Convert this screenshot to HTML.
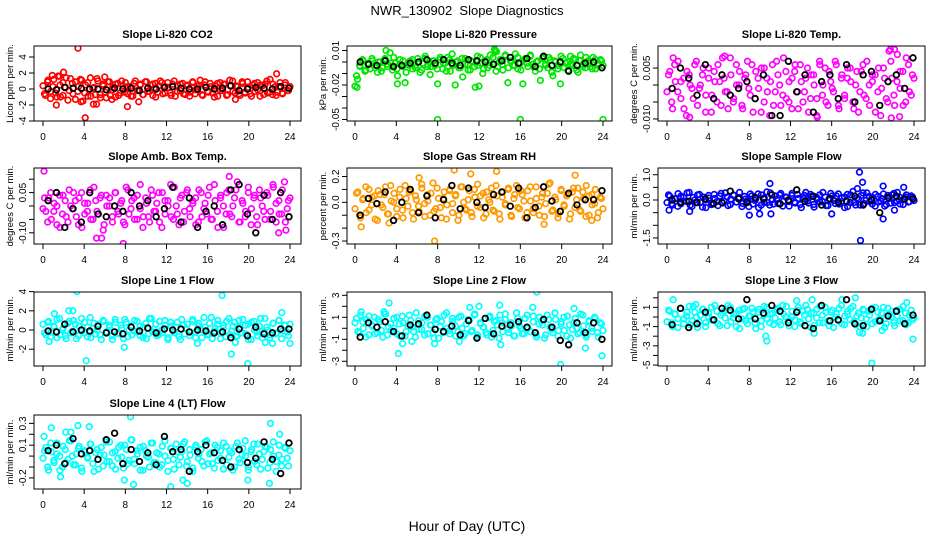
<!DOCTYPE html>
<html><head><meta charset="utf-8"><title>NWR_130902 Slope Diagnostics</title>
<style>
html,body{margin:0;padding:0;background:#fff;}
svg{display:block;font-family:"Liberation Sans",Arial,sans-serif;}
</style></head>
<body>
<svg id="chart" width="936" height="540" viewBox="0 0 936 540" xmlns="http://www.w3.org/2000/svg">
<rect x="0" y="0" width="936" height="540" fill="#fff"/>
<text x="467" y="15" font-size="13" text-anchor="middle" xml:space="preserve">NWR_130902  Slope Diagnostics</text>
<text x="467" y="531" font-size="14" text-anchor="middle">Hour of Day (UTC)</text>
</svg>
<script>
// ---- data (hours axis 0..24) ----
const xTicks=[0,4,8,12,16,20,24];
// CO2
const co2Vals=[0.4,-0.8,1.1,-1.2,0.3,-0.5,1.6,-1.0,0.8,0.2,-1.4,1.3,-0.6,0.9,-0.3,1.2,-1.5,0.5,-0.9,1.4,0.1,-0.7,1.0,-1.1,0.6,-0.4,0.9,-0.8,0.2,-1.0,0.7,-0.5,0.4,0.8,-0.6,0.3,-0.9,1.0,-0.2,0.6,-0.7,0.9,-0.3,0.5,-0.8,0.7,-0.4,1.0,-0.6,0.3,0.8,-0.5,0.6,-0.9,0.4,-0.2,0.7,-0.7,0.5,-0.4,0.9,-0.6,0.3,1.1,-0.8,0.5,-0.3,0.7,-0.5,0.4,-0.9,0.8,-0.2,0.6,-0.7,0.4,1.0,-0.5,0.3,-0.8,0.7,-0.4,0.9,-0.6,0.5,-0.3,0.8,-0.9,0.4,0.6,-0.5,1.2,-0.7,0.3,-0.4,0.8,-0.6,0.5,-0.2,0.3];
const co2Vals2=[-0.6,0.9,-0.3,1.2,-1.0,0.5,-0.8,1.4,-0.2,0.7,-1.3,0.3,1.1,-0.5,0.8,-0.9,0.2,1.3,-0.7,0.4,-1.1,0.9,-0.1,0.6,-0.8,1.0,-0.4,0.3,-0.9,0.7,-0.2,0.5,-0.7,0.9,-0.3,0.6,-1.0,0.4,0.8,-0.5,0.2,-0.8,1.0,-0.3,0.6,-0.6,0.4,-0.9,0.8,-0.1,0.5,-0.7,0.9,-0.4,0.3,-1.0,0.7,-0.2,0.6,-0.8,1.1,-0.3,0.4,-0.6,0.9,-0.5,0.2,-0.9,0.7,-0.1,0.5,-0.7,1.0,-0.4,0.6,-0.8,0.3,-0.5,0.8,-0.2];
const co2OutH=[3.4,4.1,8.2,2.0,1.3,9.3,22.7,6.0,5.2,4.9,6.7,18.7,3.7,0.9,1.6];
const co2OutV=[5.1,-3.6,-2.2,2.1,-2.0,-1.6,1.9,1.5,-1.9,-1.9,-1.3,-1.3,-1.6,1.7,1.6];
const co2Black=[0.0,-0.1,0.2,0.1,0.1,0.0,0.0,-0.1,0.1,0.0,0.1,-0.2,0.1,0.0,0.2,0.3,0.1,0.0,0.0,0.2,0.0,0.1,0.4,-0.2,0.0,0.2,0.1,0.0,0.3,0.1];
// Pressure
const presVals=[-0.021,-0.015,-0.004,0.002,-0.008,-0.001,-0.006,0.001,-0.003,-0.009,0.000,-0.005,0.003,-0.002,0.008,-0.007,-0.001,-0.012,0.002,-0.004,-0.018,-0.002,0.001,-0.006,-0.003,0.003,-0.009,-0.001,0.005,-0.004,-0.011,0.001,-0.003,-0.019,0.002,-0.006,-0.001,0.004,-0.008,-0.002,-0.020,0.001,-0.005,-0.013,0.003,-0.002,-0.007,0.000,-0.022,-0.003,0.004,-0.010,0.001,-0.005,0.006,-0.002,0.010,-0.004,0.002,-0.007,0.005,-0.018,0.001,-0.003,0.007,-0.006,-0.001,-0.019,0.003,-0.004,0.006,-0.002,-0.008,0.001,-0.016,0.004,-0.003,-0.005,0.002,-0.012,0.000,-0.006,-0.019,0.003,-0.001,-0.007,0.005,-0.003,0.002,-0.009,0.006,-0.002,-0.005,0.001,-0.004,0.004,-0.006,-0.001,0.002,-0.003];
const presVals2=[-0.012,-0.003,0.001,-0.007,-0.002,0.003,-0.005,0.000,-0.008,0.002,-0.004,-0.001,0.004,-0.006,-0.002,0.001,-0.009,-0.003,0.002,-0.005,0.000,-0.007,0.003,-0.002,-0.004,0.001,-0.006,0.004,-0.001,-0.008,0.002,-0.003,0.000,-0.005,0.003,-0.002,-0.007,0.001,-0.004,0.005,-0.001,-0.006,0.002,-0.003,0.004,-0.008,0.000,-0.002,0.006,-0.005,0.001,-0.003,0.004,-0.007,0.002,-0.001,0.005,-0.004,0.000,-0.006,0.003,-0.002,0.004,-0.009,0.001,-0.003,0.005,-0.005,0.000,-0.002,0.003,-0.007,0.001,-0.004,0.004,-0.001,-0.006,0.002,-0.003,0.001];
const presOutH=[8,16,24,13.5,13.7,3.0,9.4,0.2,12.0,4.1];
const presOutV=[-0.05,-0.05,-0.05,0.011,0.009,0.010,0.007,-0.022,-0.021,-0.019];
const presBlack=[0.000,-0.002,-0.003,0.001,-0.004,-0.003,-0.001,0.000,0.002,-0.001,0.002,-0.001,-0.003,0.002,0.001,0.000,-0.002,0.001,0.004,-0.001,0.003,-0.004,0.005,-0.003,0.000,-0.008,-0.003,-0.001,0.000,-0.005];
// Li-820 Temp
const tempVals=[-0.002,0.004,-0.007,0.001,0.007,-0.004,0.002,-0.009,0.003,-0.001,0.006,-0.006,0.000,0.005,-0.003,0.002,-0.008,0.004,-0.005,0.001,0.008,-0.002,-0.007,0.003,-0.004,0.006,0.000,-0.006,0.002,0.007,-0.003,-0.008,0.004,-0.001,0.005,-0.005,0.002,-0.009,0.006,-0.002,0.003,-0.006,0.008,-0.004,0.001,-0.007,0.004,-0.002,0.006,-0.005,0.002,-0.008,0.003,0.000,-0.004,0.007,-0.003,0.005,-0.006,0.001,-0.002,0.006,-0.007,0.003,-0.004,0.002,0.005,-0.005,0.000,-0.008,0.004,-0.003,0.007,-0.006,0.001,0.003,-0.002,-0.009,0.005,-0.004,0.010,0.002,-0.006,0.009,-0.001,0.004,-0.005,0.006,-0.003,0.002];
const tempVals2=[0.003,-0.005,0.006,-0.002,0.001,-0.007,0.004,0.000,-0.004,0.007,-0.001,0.003,-0.008,0.005,-0.003,0.001,0.006,-0.006,0.002,-0.002,0.008,-0.005,0.000,0.004,-0.007,0.003,-0.001,0.006,-0.004,0.002,-0.008,0.005,-0.002,0.001,-0.006,0.007,0.000,-0.003,0.004,-0.005,0.002,0.006,-0.007,0.001,-0.002,0.005,-0.004,0.003,-0.009,0.006,0.000,-0.005,0.004,-0.001,0.007,-0.006,0.002,-0.003,0.005,0.001,-0.007,0.004,-0.002,0.006,-0.004,0.000,0.003,-0.008,0.005,-0.001,0.002,-0.005,0.007,-0.003,0.001,0.004,-0.006,0.008,-0.002,0.003];
const tempOutH=[2.2,14.6,21.8,22.6,21.7,22.1,0.6,5.6];
const tempOutV=[-0.0095,-0.0095,-0.0097,-0.0093,0.0105,0.0105,0.008,0.0085];
const tempBlack=[-0.001,0.005,0.002,-0.003,0.006,-0.004,0.003,-0.003,-0.001,0.001,-0.004,0.003,-0.009,-0.009,0.007,-0.002,0.003,-0.008,0.001,0.003,-0.004,0.006,-0.005,0.003,0.004,-0.006,0.001,0.003,-0.001,0.008];
// Amb Box Temp
const ambVals=[-0.01,-0.02,0.03,-0.05,0.01,-0.07,0.04,-0.03,0.02,-0.06,0.00,0.05,-0.04,0.03,-0.08,0.01,-0.02,0.06,-0.05,0.02,-0.03,0.04,-0.07,0.00,0.03,-0.04,0.05,-0.02,0.01,-0.06,0.07,-0.03,0.02,-0.05,0.04,-0.01,-0.08,0.03,-0.04,0.06,-0.02,0.01,-0.06,0.05,-0.03,0.02,0.08,-0.05,0.00,-0.07,0.04,-0.02,0.06,-0.04,0.01,0.03,-0.06,0.05,-0.01,-0.03,0.07,-0.05,0.02,-0.08,0.04,0.00,-0.03,0.06,-0.04,0.03,0.09,-0.06,0.01,-0.02,0.05,-0.07,0.03,-0.04,0.06,0.00,-0.05,0.04,-0.02,0.07,-0.06,0.02,-0.03,0.09,-0.01,0.03];
const ambVals2=[0.03,-0.06,0.05,-0.02,0.00,-0.08,0.04,-0.04,0.06,-0.01,0.02,-0.07,0.05,-0.03,0.01,-0.05,0.07,-0.02,0.03,-0.09,0.04,0.00,-0.06,0.05,-0.03,0.02,-0.07,0.06,-0.01,0.03,-0.05,0.08,-0.04,0.01,-0.06,0.04,-0.02,0.05,-0.08,0.02,0.00,-0.04,0.07,-0.03,0.03,-0.06,0.05,-0.01,0.02,-0.07,0.06,-0.04,0.01,0.04,-0.05,0.08,-0.02,0.03,-0.08,0.05,-0.03,0.00,0.06,-0.06,0.02,-0.04,0.07,-0.01,0.04,-0.07,0.03,-0.02,0.05,-0.05,0.08,0.01,-0.03,0.06,-0.06,0.02];
const ambOutH=[0.1,5.2,5.7,7.8,22.9,23.6,18.1];
const ambOutV=[0.13,-0.12,-0.12,-0.14,-0.10,-0.09,0.11];
const ambBlack=[0.02,0.05,-0.08,-0.01,-0.06,0.05,-0.03,-0.04,0.00,-0.02,0.05,0.00,0.02,-0.04,-0.01,0.07,-0.06,0.03,-0.08,-0.02,0.00,-0.07,0.06,0.08,-0.03,-0.10,0.04,-0.05,0.05,-0.04];
// Gas stream RH
const rhVals=[-0.05,0.08,-0.12,0.03,-0.08,0.10,-0.02,0.05,-0.14,0.06,-0.04,0.12,-0.09,0.01,0.07,-0.11,0.04,-0.06,0.13,-0.03,0.09,-0.13,0.02,-0.07,0.11,-0.01,0.06,-0.10,0.15,-0.05,0.03,-0.12,0.08,-0.02,0.10,-0.08,0.05,-0.14,0.12,0.00,-0.06,0.09,-0.11,0.04,0.14,-0.04,0.07,-0.09,0.02,0.11,-0.07,0.05,-0.13,0.08,-0.01,0.10,-0.10,0.03,0.13,-0.05,0.06,-0.12,0.09,0.01,-0.08,0.12,-0.03,0.04,-0.11,0.07,0.15,-0.06,0.02,-0.09,0.10,-0.02,0.05,-0.13,0.08,-0.04,0.11,-0.07,0.03,0.13,-0.10,0.06,-0.01,-0.12,0.04,-0.05];
const rhVals2=[0.07,-0.10,0.02,0.12,-0.06,0.04,-0.13,0.09,-0.02,0.06,-0.09,0.13,0.00,-0.05,0.10,-0.12,0.03,0.08,-0.08,0.05,-0.03,0.14,-0.11,0.01,0.07,-0.07,0.11,-0.04,0.03,-0.13,0.09,-0.01,0.06,-0.10,0.12,-0.05,0.02,-0.08,0.10,-0.03,0.05,-0.12,0.08,0.00,-0.06,0.13,-0.09,0.04,-0.02,0.11,-0.11,0.06,-0.04,0.09,0.01,-0.08,0.12,-0.05,0.03,-0.10,0.07,-0.01,0.14,-0.07,0.04,-0.12,0.09,-0.03,0.06,-0.09,0.11,0.02,-0.06,0.08,-0.11,0.05,-0.02,0.10,-0.08,0.03];
const rhOutH=[0.6,3.3,6.2,7.7,9.6,11.2,13.7,18.3,21.3,22.9];
const rhOutV=[-0.19,-0.16,0.19,-0.30,0.25,0.22,0.24,-0.17,0.21,-0.14];
const rhBlack=[-0.10,0.03,-0.01,0.08,-0.14,0.00,0.10,-0.08,0.05,-0.12,0.02,0.13,-0.05,0.11,0.00,-0.04,0.06,0.08,-0.03,0.11,-0.12,-0.04,0.12,0.01,-0.07,0.07,-0.02,0.02,0.02,0.09];
// Sample flow
const sampVals=[-0.1,0.15,-0.2,0.05,0.25,-0.15,0.1,-0.05,0.3,-0.25,0.0,0.2,-0.1,0.12,-0.3,0.08,-0.18,0.22,-0.06,0.16,-0.12,0.28,-0.22,0.04,0.18,-0.08,0.1,-0.26,0.14,-0.02,0.24,-0.16,0.06,-0.3,0.2,-0.1,0.32,-0.2,0.02,0.16,-0.14,0.26,-0.04,0.1,-0.24,0.18,-0.08,0.22,-0.18,0.06,0.3,-0.12,0.14,-0.28,0.04,0.2,-0.06,0.12,-0.22,0.26,-0.02,0.16,-0.16,0.08,-0.3,0.22,-0.1,0.34,-0.2,0.04,0.18,-0.14,0.28,-0.06,0.1,-0.24,0.14,-0.04,0.24,-0.18,0.06,0.2,-0.1,0.3,-0.16,0.02,0.12,-0.08,0.16,-0.02];
const sampVals2=[0.2,-0.15,0.05,-0.25,0.15,-0.05,0.28,-0.2,0.1,-0.1,0.22,-0.28,0.0,0.18,-0.12,0.06,-0.22,0.26,-0.04,0.12,-0.18,0.2,-0.08,0.3,-0.14,0.04,-0.26,0.16,-0.02,0.24,-0.2,0.08,-0.1,0.28,-0.16,0.02,0.2,-0.24,0.12,-0.06,0.26,-0.12,0.06,-0.3,0.18,-0.04,0.22,-0.18,0.1,-0.08,0.3,-0.22,0.04,0.16,-0.14,0.24,-0.06,0.12,-0.26,0.2,-0.1,0.08,-0.2,0.28,-0.02,0.14,-0.16,0.22,-0.08,0.06,-0.24,0.18,-0.12,0.26,-0.04,0.1,-0.18,0.2,-0.06,0.12];
const sampOutH=[0.2,2.2,8.0,9.0,10.0,10.1,16.0,18.5,18.7,18.8,19.0,21.0,21.0,23.0,22.1];
const sampOutV=[-0.4,-0.45,-0.6,-0.55,0.65,-0.55,-0.55,0.45,1.1,-1.6,0.7,0.55,-0.75,0.5,-0.4];
const sampBlack=[0.0,-0.1,-0.05,-0.1,0.05,-0.15,-0.1,0.35,0.05,-0.1,0.1,0.05,0.2,-0.15,0.0,0.4,-0.05,0.15,-0.2,0.05,-0.1,-0.05,0.15,-0.2,0.0,-0.5,0.1,0.15,0.05,0.05];
// Line 1
const l1Vals=[0.6,-0.5,0.9,-0.2,0.3,-0.8,1.2,0.0,-0.6,0.7,-0.3,1.0,-0.9,0.4,-0.1,0.8,-0.7,1.3,0.2,-0.4,0.6,-1.0,0.9,-0.2,0.3,-0.6,1.1,-0.3,0.5,-0.9,0.8,0.0,-0.5,1.0,-0.2,0.4,-0.8,0.7,-0.4,1.2,0.1,-0.6,0.9,-0.3,0.5,-1.0,0.8,-0.1,0.3,-0.7,1.1,-0.4,0.6,-0.2,0.9,-0.8,0.4,0.0,1.3,-0.5,0.7,-0.9,0.2,1.0,-0.3,0.5,-0.7,1.2,-0.1,0.8,-0.6,0.3,1.1,-0.4,0.6,-1.0,0.9,-0.2,0.4,-0.8,1.2,0.0,-0.5,0.7,-0.3,1.0,-0.9,0.5,-0.2,0.6];
const l1Vals2=[-0.3,0.8,-0.7,0.4,1.1,-0.5,0.2,-0.9,0.9,-0.1,0.6,-0.6,1.2,-0.3,0.3,-0.8,0.7,0.0,-0.5,1.0,-0.2,0.5,-1.0,0.8,-0.4,0.2,1.1,-0.7,0.4,-0.1,0.9,-0.6,0.3,-0.9,1.2,-0.2,0.6,-0.5,0.0,1.0,-0.8,0.4,-0.3,0.8,-1.0,0.5,0.1,-0.6,1.1,-0.2,0.7,-0.8,0.3,-0.4,1.3,-0.1,0.6,-0.9,0.2,0.9,-0.5,0.4,-0.7,1.0,-0.3,0.5,-1.0,0.8,0.0,-0.6,1.2,-0.2,0.3,-0.8,0.7,-0.4,1.0,-0.1,0.5,-0.6];
const l1OutH=[0.6,1.1,2.5,2.9,3.3,4.2,7.9,17.4,18.3,18.7,19.9,21.6,22.3,23.2,24.0,15.0];
const l1OutV=[-1.2,1.7,2.0,2.0,4.0,-3.2,-1.8,3.6,-2.5,-1.3,-3.5,-1.3,-1.4,1.8,-1.4,-1.4];
const l1Black=[-0.1,-0.2,0.6,-0.2,0.0,-0.1,0.4,-0.3,-0.2,-0.4,0.3,-0.1,0.2,-0.3,0.1,0.0,0.1,-0.2,0.0,-0.1,-0.3,-0.2,-0.8,0.1,-0.6,0.3,-0.4,-0.3,0.1,0.1];
// Line 2
const l2Vals=[0.5,-0.3,1.2,0.0,0.8,-0.6,0.3,1.0,-0.4,0.6,-0.8,1.3,0.1,-0.2,0.9,-0.5,0.4,1.1,-0.7,0.2,0.7,-0.3,1.4,-0.1,0.5,-0.6,1.0,0.3,-0.4,0.8,-0.9,0.6,1.2,0.0,-0.5,0.9,0.2,-0.3,1.1,-0.7,0.4,0.7,-0.2,1.3,-0.6,0.5,0.1,-0.4,1.0,-0.8,0.6,0.3,1.2,-0.3,0.8,-0.1,0.5,-0.7,1.4,0.2,-0.5,0.9,0.0,-0.3,1.1,-0.6,0.4,0.7,-0.9,1.2,0.1,-0.4,0.8,-0.2,0.6,1.0,-0.7,0.3,-0.1,0.9,-0.5,1.3,0.2,-0.8,0.6,0.0,1.0,-0.4,0.5,-0.2];
const l2Vals2=[0.9,-0.4,0.6,-0.8,1.1,0.2,-0.5,0.8,-0.2,1.3,-0.6,0.4,0.0,1.0,-0.7,0.5,-0.3,1.2,0.1,-0.8,0.7,-0.1,1.1,-0.5,0.3,-0.9,0.9,0.2,-0.4,1.4,-0.2,0.6,-0.7,1.0,0.0,-0.5,0.8,-0.3,1.2,-0.8,0.4,0.1,-0.6,1.1,-0.2,0.7,-0.9,0.5,1.3,-0.4,0.2,-0.7,0.9,0.0,-0.5,1.2,-0.3,0.6,-0.8,1.0,0.3,-0.6,0.8,-0.1,1.4,-0.7,0.4,-0.2,1.1,-0.9,0.5,0.0,-0.4,1.2,-0.6,0.7,-0.3,0.9,-0.8,0.4];
const l2OutH=[0.6,3.3,4.2,4.6,5.5,7.7,11.1,12.0,14.0,14.1,17.2,17.6,19.9,21.2,22.3,23.9,10.1,2.8];
const l2OutV=[1.5,2.3,-2.3,-1.4,-1.2,-1.4,1.9,2.0,2.1,-1.5,1.9,3.3,-3.3,1.8,-1.8,-2.5,-1.2,1.5];
const l2Black=[-0.8,0.5,0.1,0.6,-0.3,-0.7,0.3,0.4,1.2,-0.1,-0.3,0.2,-0.6,0.7,-0.9,0.9,-0.5,0.2,0.3,0.6,0.1,-0.4,0.8,0.1,-1.1,-1.5,0.5,-0.4,0.5,-1.0];
// Line 3
const l3Vals=[-0.5,0.6,-1.0,0.3,-0.2,0.9,-0.7,0.1,1.1,-0.4,0.5,-1.1,0.2,0.8,-0.6,0.0,1.0,-0.3,0.6,-0.9,0.4,-0.1,1.2,-0.5,0.3,-1.0,0.7,-0.2,0.9,-0.7,0.1,0.5,-1.2,0.8,-0.4,0.2,1.0,-0.6,0.4,-0.1,0.9,-0.8,0.3,1.1,-0.3,0.0,-1.0,0.7,-0.5,0.6,1.2,-0.2,0.4,-0.9,0.8,-0.6,0.2,1.0,-0.4,0.5,-1.1,0.3,0.9,-0.7,0.1,0.6,-0.3,1.1,-0.8,0.4,-0.1,0.7,-1.0,0.2,0.9,-0.5,0.5,-0.2,1.0,-0.7,0.3,0.6,-0.9,0.1,0.8,-0.4,0.4,-0.6,0.7,-0.1];
const l3Vals2=[0.7,-0.6,0.3,-1.1,0.9,-0.2,0.5,-0.8,1.1,0.0,-0.5,0.8,-1.0,0.4,-0.3,1.2,-0.7,0.2,0.6,-0.9,1.0,-0.1,0.4,-1.2,0.8,-0.4,0.1,0.9,-0.6,0.5,-1.0,1.1,-0.2,0.3,-0.8,0.7,-0.5,1.2,0.0,-0.9,0.6,-0.3,1.0,-0.7,0.2,0.8,-1.1,0.4,-0.1,1.1,-0.6,0.5,-0.9,0.7,0.0,-0.4,1.2,-0.8,0.3,0.9,-0.5,0.1,-1.0,0.8,-0.2,0.6,-0.7,1.0,-0.3,0.4,-1.1,0.9,0.0,-0.6,0.7,-0.4,1.1,-0.8,0.2,-0.3];
const l3OutH=[0.6,9.6,9.7,12.6,14.3,14.1,17.0,18.3,18.7,19.0,19.9,20.9,23.3,23.9,2.8];
const l3OutV=[1.8,-2.0,-2.5,1.7,-1.7,1.8,1.8,2.0,-1.6,-1.7,-4.8,-1.4,1.5,-2.3,1.3];
const l3Black=[-0.8,0.9,-1.1,-0.7,0.5,-0.3,0.9,0.7,-0.2,1.8,-0.2,0.4,1.2,0.6,-0.6,0.5,-0.9,-1.2,1.2,-0.4,-0.3,1.8,-0.7,-0.9,0.8,-0.4,0.1,0.6,-0.7,0.2];
// Line 4
const l4Vals=[-0.02,0.08,-0.13,0.04,-0.06,0.12,0.00,-0.10,0.06,-0.03,0.14,-0.08,0.02,0.09,-0.14,0.05,-0.01,0.11,-0.07,0.03,-0.12,0.08,0.01,-0.05,0.13,-0.09,0.04,-0.02,0.10,-0.11,0.06,-0.04,0.15,-0.07,0.02,0.08,-0.13,0.05,-0.01,0.12,-0.06,0.03,-0.10,0.09,0.00,-0.14,0.07,-0.03,0.11,-0.08,0.04,0.13,-0.05,0.01,-0.11,0.08,-0.02,0.06,-0.09,0.14,0.02,-0.07,0.10,-0.04,0.05,-0.12,0.09,-0.01,0.03,-0.10,0.12,-0.06,0.07,0.00,-0.13,0.04,0.11,-0.08,0.02,-0.03,0.09,-0.11,0.06,0.13,-0.05,0.01,-0.09,0.08,-0.02,0.05];
const l4Vals2=[0.05,-0.10,0.12,-0.04,0.02,-0.13,0.09,-0.06,0.14,0.00,-0.08,0.07,-0.11,0.04,-0.02,0.11,-0.14,0.06,0.01,-0.09,0.13,-0.05,0.03,-0.12,0.08,-0.01,0.10,-0.07,0.15,-0.03,0.05,-0.13,0.09,0.00,-0.10,0.12,-0.06,0.02,-0.08,0.14,-0.04,0.07,-0.12,0.04,-0.01,0.11,-0.09,0.06,-0.14,0.10,0.02,-0.05,0.13,-0.07,0.03,-0.11,0.08,-0.02,0.12,-0.08,0.05,-0.13,0.09,-0.03,0.01,0.14,-0.10,0.06,-0.05,0.11,-0.12,0.04,0.08,-0.06,0.00,-0.14,0.10,-0.03,0.07,-0.09];
const l4OutH=[0.1,0.8,1.7,2.2,2.7,3.4,4.5,8.5,8.8,7.9,12.4,13.6,14.0,22.1,22.0,23.0,19.9];
const l4OutV=[0.18,0.26,-0.19,0.22,0.22,0.28,0.27,0.36,-0.26,-0.22,-0.28,-0.22,-0.25,0.30,-0.25,0.20,-0.22];
const l4Black=[0.05,0.10,-0.07,0.16,0.02,0.05,-0.03,0.15,0.21,-0.07,0.06,-0.05,0.03,-0.08,0.18,0.04,0.06,-0.14,0.04,0.10,0.03,-0.04,-0.10,0.06,-0.06,-0.02,0.13,-0.03,-0.16,0.12];

// ---- layout ----
const NS="http://www.w3.org/2000/svg";
const svg=document.getElementById('chart');
const cols=[{l:34,r:301,x0:43,x24:290},{l:347,r:612,x0:355,x24:603},{l:658,r:925,x0:667,x24:914}];
const rows=[{t:46,b:121},{t:168,b:244},{t:292,b:366},{t:415,b:489}];
const panels=[
 {key:'co2',title:'Slope Li-820 CO2',ytitle:'Licor ppm per min.',c:0,r:0,lo:-4,hi:5.375,ticks:[-4,-2,0,2,4],labels:['-4','-2','0','2','4'],color:'#ff0000',vals:co2Vals,vals2:co2Vals2,oh:co2OutH,ov:co2OutV,blk:co2Black},
 {key:'pressure',title:'Slope Li-820 Pressure',ytitle:'kPa per min.',c:1,r:0,lo:-0.0513,hi:0.0139,ticks:[-0.05,-0.04,-0.03,-0.02,-0.01,0,0.01],labels:['-0.05','','','-0.02','','','0.01'],color:'#00e600',vals:presVals,vals2:presVals2,oh:presOutH,ov:presOutV,blk:presBlack},
 {key:'temp',title:'Slope Li-820 Temp.',ytitle:'degrees C per min.',c:2,r:0,lo:-0.0106,hi:0.0115,ticks:[-0.010,-0.005,0,0.005],labels:['-0.010','','','0.005'],color:'#ff00ff',vals:tempVals,vals2:tempVals2,oh:tempOutH,ov:tempOutV,blk:tempBlack},
 {key:'amb',title:'Slope Amb. Box Temp.',ytitle:'degrees C per min.',c:0,r:1,lo:-0.1418,hi:0.1418,ticks:[-0.10,-0.05,0,0.05,0.10],labels:['-0.10','','','0.05',''],color:'#ff00ff',vals:ambVals,vals2:ambVals2,oh:ambOutH,ov:ambOutV,blk:ambBlack},
 {key:'rh',title:'Slope Gas Stream RH',ytitle:'percent per min.',c:1,r:1,lo:-0.323,hi:0.266,ticks:[-0.3,-0.2,-0.1,0,0.1,0.2],labels:['-0.3','','','0.0','','0.2'],color:'#ff9900',vals:rhVals,vals2:rhVals2,oh:rhOutH,ov:rhOutV,blk:rhBlack},
 {key:'sample',title:'Slope Sample Flow',ytitle:'ml/min per min.',c:2,r:1,lo:-1.739,hi:1.265,ticks:[-1.5,-1,-0.5,0,0.5,1],labels:['-1.5','','','0.0','','1.0'],color:'#0000ff',vals:sampVals,vals2:sampVals2,oh:sampOutH,ov:sampOutV,blk:sampBlack},
 {key:'line1',title:'Slope Line 1 Flow',ytitle:'ml/min per min.',c:0,r:2,lo:-3.75,hi:3.96,ticks:[-2,0,2,4],labels:['-2','0','2','4'],color:'#00ffff',vals:l1Vals,vals2:l1Vals2,oh:l1OutH,ov:l1OutV,blk:l1Black},
 {key:'line2',title:'Slope Line 2 Flow',ytitle:'ml/min per min.',c:1,r:2,lo:-3.43,hi:3.3,ticks:[-3,-2,-1,0,1,2,3],labels:['-3','','-1','','1','','3'],color:'#00ffff',vals:l2Vals,vals2:l2Vals2,oh:l2OutH,ov:l2OutV,blk:l2Black},
 {key:'line3',title:'Slope Line 3 Flow',ytitle:'ml/min per min.',c:2,r:2,lo:-5.1,hi:2.6,ticks:[-5,-4,-3,-2,-1,0,1,2],labels:['-5','','-3','','-1','','1',''],color:'#00ffff',vals:l3Vals,vals2:l3Vals2,oh:l3OutH,ov:l3OutV,blk:l3Black},
 {key:'line4',title:'Slope Line 4 (LT) Flow',ytitle:'ml/min per min.',c:0,r:3,lo:-0.302,hi:0.377,ticks:[-0.2,-0.1,0,0.1,0.2,0.3],labels:['-0.2','','','0.1','','0.3'],color:'#00ffff',vals:l4Vals,vals2:l4Vals2,oh:l4OutH,ov:l4OutV,blk:l4Black}
];

function mk(tag,attrs,parent){const e=document.createElementNS(NS,tag);for(const k in attrs)e.setAttribute(k,attrs[k]);(parent||svg).appendChild(e);return e;}

panels.forEach(p=>{
  const C=cols[p.c],R=rows[p.r];
  const xs=h=>C.x0+(C.x24-C.x0)*h/24;
  const ys=v=>R.b-(v-p.lo)/(p.hi-p.lo)*(R.b-R.t);
  const g=mk('g',{});
  
  
  const cp=mk('clipPath',{id:'clip-'+p.key},g);
  mk('rect',{x:C.l,y:R.t,width:C.r-C.l,height:R.b-R.t},cp);
  const pts=mk('g',{'clip-path':'url(#clip-'+p.key+')'},g);
  
  
  const n=p.vals.length;
  p.vals.forEach((v,i)=>{
    const c=mk('circle',{cx:xs(i*24/(n-1)),cy:ys(v),r:2.8,fill:'none',stroke:p.color,'stroke-width':1.7},pts);
    
    
  });
  const n2=p.vals2.length;
  p.vals2.forEach((v,i)=>{
    const c=mk('circle',{cx:xs(0.15+i*23.7/(n2-1)),cy:ys(v),r:2.8,fill:'none',stroke:p.color,'stroke-width':1.7},pts);
    
    
  });
  p.oh.forEach((h,i)=>{
    const c=mk('circle',{cx:xs(h),cy:ys(p.ov[i]),r:2.8,fill:'none',stroke:p.color,'stroke-width':1.7},pts);
    
    
  });
  const nb=p.blk.length;
  p.blk.forEach((v,i)=>{
    const c=mk('circle',{cx:xs(0.5+i*23.4/(nb-1)),cy:ys(v),r:2.8,fill:'none',stroke:'#000','stroke-width':1.8},pts);
    
    
  });
  const box=mk('rect',{x:C.l,y:R.t,width:C.r-C.l,height:R.b-R.t,fill:'none',stroke:'#000','stroke-width':1},g);
  
  
  const t=mk('text',{x:(C.l+C.r)/2,y:R.t-8,'font-size':11,'font-weight':'bold','text-anchor':'middle'},g);
  t.textContent=p.title;
  
  
  xTicks.forEach(h=>{
    mk('line',{x1:xs(h),x2:xs(h),y1:R.b,y2:R.b+5,stroke:'#000','stroke-width':1},g);
    const tl=mk('text',{x:xs(h),y:R.b+19,'font-size':10,'text-anchor':'middle'},g);
    tl.textContent=String(h);
    
    
  });
  p.ticks.forEach((v,i)=>{
    const y=ys(v);
    mk('line',{x1:C.l-5,x2:C.l,y1:y,y2:y,stroke:'#000','stroke-width':1},g);
    if(p.labels[i]){
      const tl=mk('text',{x:0,y:0,'font-size':10,'text-anchor':'middle',transform:'translate('+(C.l-8)+','+y+') rotate(-90)'},g);
      tl.textContent=p.labels[i];
      
      
    }
  });
  const yt=mk('text',{x:0,y:0,'font-size':9.5,'text-anchor':'middle',transform:'translate('+(C.l-21)+','+((R.t+R.b)/2)+') rotate(-90)'},g);
  yt.textContent=p.ytitle;
  
  
});
</script>
</body></html>
